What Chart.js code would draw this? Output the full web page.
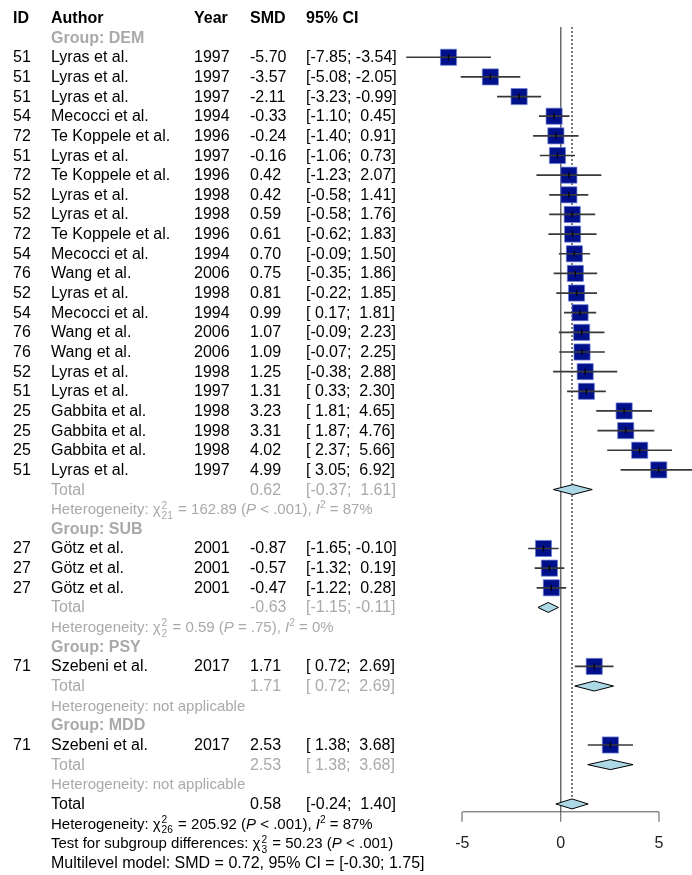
<!DOCTYPE html>
<html>
<head>
<meta charset="utf-8">
<script src="https://cdn.jsdelivr.net/npm/chart.js@4.4.1/dist/chart.umd.min.js"></script>
<style>
  html, body { margin: 0; padding: 0; background: #fff; }
  #wrap { position: relative; width: 692px; height: 875px; overflow: hidden;
          font-family: "Liberation Sans", Arial, sans-serif; }
  #forest { position: absolute; left: 0; top: 0; }
  .t { position: absolute; white-space: pre; font-size: 16px; line-height: 20px; height: 20px; color: #000; }
  .b { font-weight: bold; }
  .g { color: #a9a9a9; }
  .s { font-size: 15px; }
  .ss { display: inline-block; vertical-align: -0.45em; font-size: 0.68em; line-height: 1em; margin: 0 1px 0 1px; }
  .ss span { display: block; }
  .sp { font-size: 0.68em; vertical-align: 0.6em; line-height: 0; }
</style>
</head>
<body>
<div id="wrap">
  <canvas id="forest" width="692" height="875"></canvas>
</div>
<script>
// Datos de los estudios (en el orden del gráfico)
const studyIds = [51, 51, 51, 54, 72, 51, 72, 52, 52, 72, 54, 76, 52, 54, 76, 76, 52, 51, 25, 25, 25, 51,
                  27, 27, 27, 71, 71];
const studyAuthors = ['Lyras et al.', 'Lyras et al.', 'Lyras et al.', 'Mecocci et al.', 'Te Koppele et al.',
  'Lyras et al.', 'Te Koppele et al.', 'Lyras et al.', 'Lyras et al.', 'Te Koppele et al.', 'Mecocci et al.',
  'Wang et al.', 'Lyras et al.', 'Mecocci et al.', 'Wang et al.', 'Wang et al.', 'Lyras et al.', 'Lyras et al.',
  'Gabbita et al.', 'Gabbita et al.', 'Gabbita et al.', 'Lyras et al.',
  'Götz et al.', 'Götz et al.', 'Götz et al.', 'Szebeni et al.', 'Szebeni et al.'];
const studyYears = [1997, 1997, 1997, 1994, 1996, 1997, 1996, 1998, 1998, 1996, 1994, 2006, 1998, 1994, 2006,
                    2006, 1998, 1997, 1998, 1998, 1998, 1997, 2001, 2001, 2001, 2017, 2017];
const studySmd = [-5.70, -3.57, -2.11, -0.33, -0.24, -0.16, 0.42, 0.42, 0.59, 0.61, 0.70, 0.75, 0.81, 0.99,
                  1.07, 1.09, 1.25, 1.31, 3.23, 3.31, 4.02, 4.99, -0.87, -0.57, -0.47, 1.71, 2.53];
const studyLow = [-7.85, -5.08, -3.23, -1.10, -1.40, -1.06, -1.23, -0.58, -0.58, -0.62, -0.09, -0.35, -0.22,
                  0.17, -0.09, -0.07, -0.38, 0.33, 1.81, 1.87, 2.37, 3.05, -1.65, -1.32, -1.22, 0.72, 1.38];
const studyHigh = [-3.54, -2.05, -0.99, 0.45, 0.91, 0.73, 2.07, 1.41, 1.76, 1.83, 1.50, 1.86, 1.85, 1.81,
                   2.23, 2.25, 2.88, 2.30, 4.65, 4.76, 5.66, 6.92, -0.10, 0.19, 0.28, 2.69, 3.68];
const studyGroup = ['DEM', 'DEM', 'DEM', 'DEM', 'DEM', 'DEM', 'DEM', 'DEM', 'DEM', 'DEM', 'DEM', 'DEM',
                    'DEM', 'DEM', 'DEM', 'DEM', 'DEM', 'DEM', 'DEM', 'DEM', 'DEM', 'DEM',
                    'SUB', 'SUB', 'SUB', 'PSY', 'MDD'];

// Resumen por grupo
const groupNames = ['DEM', 'SUB', 'PSY', 'MDD'];
const groupSmd = [0.62, -0.63, 1.71, 2.53];
const groupLow = [-0.37, -1.15, 0.72, 1.38];
const groupHigh = [1.61, -0.11, 2.69, 3.68];
const groupHetDf = ['21', '2', null, null];
const groupHetQ = ['162.89', '0.59', null, null];
const groupHetP = ['< .001', '= .75', null, null];
const groupHetI2 = ['87%', '0%', null, null];

// Resumen global
const overallSmd = 0.58, overallLow = -0.24, overallHigh = 1.40;
const overallHet = { df: '26', q: '205.92', p: '< .001', i2: '87%' };
const subgroupTest = { df: '3', q: '50.23', p: '< .001' };
const multilevel = { smd: '0.72', low: '-0.30', high: '1.75' };

const xTicks = [-5, 0, 5];

// Asignar una fila a cada elemento
let row = 0;
const studyRow = [], groupLabelRow = [], groupTotalRow = [], groupHetRow = [];
groupNames.forEach(g => {
  groupLabelRow.push(row++);
  studyGroup.forEach(sg => { if (sg === g) studyRow.push(row++); });
  groupTotalRow.push(row++);
  groupHetRow.push(row++);
});
const overallRow = row++;
const overallHetRow = row++;
const testRow = row++;
const mlRow = row++;

const DH = 0.254; // media altura del rombo, en filas
const Y_MIN = -0.54, Y_MAX = 39.4;
const X_MIN = -8.165, X_MAX = 6.68;

function fmt(v) { return v < 0 ? v.toFixed(2) : ' ' + v.toFixed(2); }
function ci(lo, hi) { return '[' + fmt(lo) + '; ' + fmt(hi) + ']'; }
function chi(df) { return 'χ<span class="ss"><span>2</span><span>' + df + '</span></span>'; }

// Líneas de los intervalos con huecos entre estudios
const ciData = [];
studySmd.forEach((v, i) => {
  ciData.push({ x: studyLow[i], y: studyRow[i] });
  ciData.push({ x: studyHigh[i], y: studyRow[i] });
  ciData.push({ x: studyHigh[i], y: null });
});

function diamond(est, lo, hi, r) {
  return {
    type: 'line',
    data: [{ x: lo, y: r }, { x: est, y: r - DH }, { x: hi, y: r }, { x: est, y: r + DH }, { x: lo, y: r }],
    fill: 'shape', backgroundColor: '#add8e6', borderColor: '#000', borderWidth: 1,
    pointRadius: 0, tension: 0, order: 3, clip: false
  };
}

const datasets = [
  { // marca central
    type: 'scatter',
    data: studySmd.map((v, i) => ({ x: v, y: studyRow[i] })),
    pointStyle: 'line', rotation: 90, pointRadius: 3, borderColor: '#000', borderWidth: 1.3,
    order: 0, clip: false
  },
  { // intervalos
    type: 'line',
    data: ciData,
    borderColor: '#383838', borderWidth: 1.7, pointRadius: 0, spanGaps: false, tension: 0,
    order: 1, clip: false
  },
  { // cuadrados
    type: 'scatter',
    data: studySmd.map((v, i) => ({ x: v, y: studyRow[i] })),
    pointStyle: 'rect', pointRadius: 11.4, backgroundColor: '#00108b', borderColor: 'rgba(110,130,215,0.7)',
    borderWidth: 1, order: 2, clip: false
  },
  { // línea punteada del efecto global
    type: 'line',
    data: [{ x: overallSmd, y: Y_MIN }, { x: overallSmd, y: overallRow - DH }],
    borderColor: '#444', borderWidth: 1.4, borderDash: [2, 2], pointRadius: 0, order: 5
  },
  { // línea del eje, solo entre los extremos de las marcas
    type: 'line',
    data: [{ x: xTicks[0], y: Y_MAX }, { x: xTicks[xTicks.length - 1], y: Y_MAX }],
    borderColor: '#555', borderWidth: 1, pointRadius: 0, order: 6, clip: false
  }
];
groupNames.forEach((g, i) => datasets.push(diamond(groupSmd[i], groupLow[i], groupHigh[i], groupTotalRow[i])));
datasets.push(diamond(overallSmd, overallLow, overallHigh, overallRow));

const chart = new Chart(document.getElementById('forest'), {
  type: 'scatter',
  data: { datasets },
  options: {
    responsive: false,
    animation: false,
    events: [],
    layout: { autoPadding: false, padding: { left: 400, right: 0, top: 27, bottom: 10 } },
    plugins: { legend: { display: false }, tooltip: { enabled: false } },
    scales: {
      x: {
        type: 'linear', min: X_MIN, max: X_MAX,
        afterBuildTicks: s => { s.ticks = xTicks.map(v => ({ value: v })); },
        ticks: { color: '#222', padding: 12, autoSkip: false, maxRotation: 0,
                 font: { family: '"Liberation Sans", Arial, sans-serif', size: 16 } },
        grid: {
          color: c => (c.tick && c.tick.value === 0) ? '#6b6b6b' : 'rgba(0,0,0,0)',
          lineWidth: c => (c.tick && c.tick.value === 0) ? 1.5 : 0,
          tickColor: '#555', tickWidth: 1, tickLength: 10, drawOnChartArea: true
        },
        border: { display: false }
      },
      y: { type: 'linear', display: false, reverse: true, min: Y_MIN, max: Y_MAX }
    }
  }
});

// Texto de la tabla, colocado con la escala y
const wrap = document.getElementById('wrap');
const yScale = chart.scales.y;
function addText(r, x, html, cls) {
  const d = document.createElement('div');
  d.className = 't ' + (cls || '');
  d.style.left = x + 'px';
  d.style.top = (yScale.getPixelForValue(r) - 10) + 'px';
  d.innerHTML = html;
  wrap.appendChild(d);
}
const COL_ID = 13, COL_AUTHOR = 51, COL_YEAR = 194, COL_SMD = 250, COL_CI = 306;

addText(-1, COL_ID, 'ID', 'b');
addText(-1, COL_AUTHOR, 'Author', 'b');
addText(-1, COL_YEAR, 'Year', 'b');
addText(-1, COL_SMD, 'SMD', 'b');
addText(-1, COL_CI, '95% CI', 'b');

studySmd.forEach((v, i) => {
  const r = studyRow[i];
  addText(r, COL_ID, String(studyIds[i]));
  addText(r, COL_AUTHOR, studyAuthors[i]);
  addText(r, COL_YEAR, String(studyYears[i]));
  addText(r, COL_SMD, v.toFixed(2));
  addText(r, COL_CI, ci(studyLow[i], studyHigh[i]));
});

groupNames.forEach((g, i) => {
  addText(groupLabelRow[i], COL_AUTHOR, 'Group: ' + g, 'b g');
  addText(groupTotalRow[i], COL_AUTHOR, 'Total', 'g');
  addText(groupTotalRow[i], COL_SMD, groupSmd[i].toFixed(2), 'g');
  addText(groupTotalRow[i], COL_CI, ci(groupLow[i], groupHigh[i]), 'g');
  const het = groupHetDf[i] === null
    ? 'Heterogeneity: not applicable'
    : 'Heterogeneity: ' + chi(groupHetDf[i]) + ' = ' + groupHetQ[i] + ' (<i>P</i> ' + groupHetP[i].replace('<', '&lt;') +
      '), <i>I</i><span class="sp">2</span> = ' + groupHetI2[i];
  addText(groupHetRow[i], COL_AUTHOR, het, 'g s');
});

addText(overallRow, COL_AUTHOR, 'Total');
addText(overallRow, COL_SMD, overallSmd.toFixed(2));
addText(overallRow, COL_CI, ci(overallLow, overallHigh));
addText(overallHetRow, COL_AUTHOR, 'Heterogeneity: ' + chi(overallHet.df) + ' = ' + overallHet.q +
  ' (<i>P</i> ' + overallHet.p.replace('<', '&lt;') + '), <i>I</i><span class="sp">2</span> = ' + overallHet.i2, 's');
addText(testRow, COL_AUTHOR, 'Test for subgroup differences: ' + chi(subgroupTest.df) + ' = ' + subgroupTest.q +
  ' (<i>P</i> ' + subgroupTest.p.replace('<', '&lt;') + ')', 's');
addText(mlRow, COL_AUTHOR, 'Multilevel model: SMD = ' + multilevel.smd + ', 95% CI = [' + multilevel.low + '; ' +
  multilevel.high + ']');
</script>
</body>
</html>
